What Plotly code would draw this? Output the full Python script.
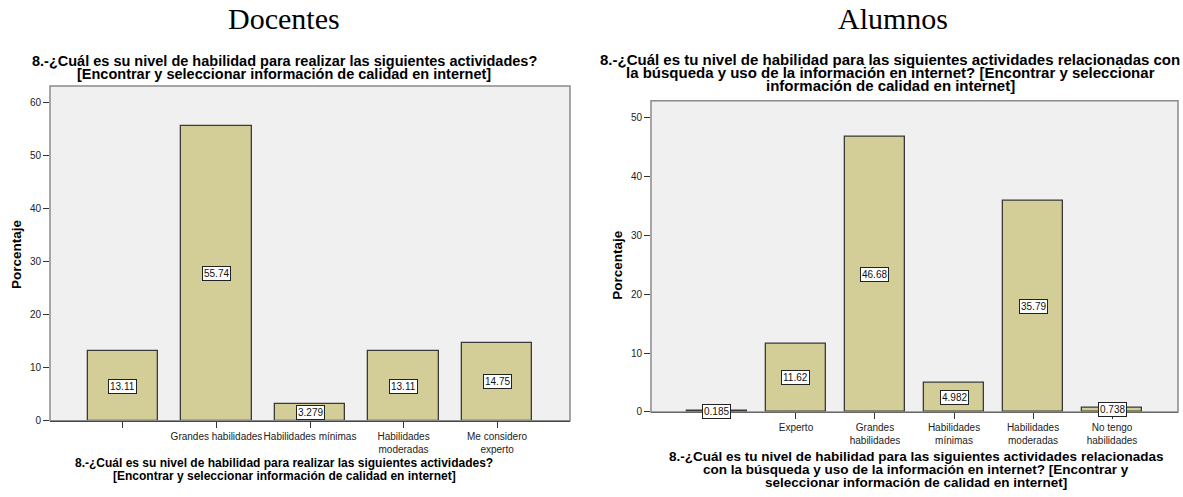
import plotly.graph_objects as go

# Docentes: percentage per answer category
doc_categories = ["", "Grandes habilidades", "Habilidades mínimas",
                  "Habilidades<br>moderadas", "Me considero<br>experto"]
doc_values = [13.11, 55.74, 3.279, 13.11, 14.75]
doc_labels = ["13.11", "55.74", "3.279", "13.11", "14.75"]

# Alumnos: percentage per answer category
alu_categories = ["", "Experto", "Grandes<br>habilidades", "Habilidades<br>mínimas",
                  "Habilidades<br>moderadas", "No tengo<br>habilidades"]
alu_values = [0.185, 11.62, 46.68, 4.982, 35.79, 0.738]
alu_labels = ["0.185", "11.62", "46.68", "4.982", "35.79", "0.738"]

doc_ticks = [0, 10, 20, 30, 40, 50, 60]
alu_ticks = [0, 10, 20, 30, 40, 50]

# chart and axis titles, one entry per printed line
doc_title_lines = ["8.-¿Cuál es su nivel de habilidad para realizar las siguientes actividades?",
                   "[Encontrar y seleccionar información de calidad en internet]"]
alu_title_lines = ["8.-¿Cuál es tu nivel de habilidad para las siguientes actividades relacionadas con",
                   "la búsqueda y uso de la información en internet? [Encontrar y seleccionar",
                   "información de calidad en internet]"]
alu_xtitle_lines = ["8.-¿Cuál es tu nivel de habilidad para las siguientes actividades relacionadas",
                    "con la búsqueda y uso de la información en internet? [Encontrar y",
                    "seleccionar información de calidad en internet]"]

W, H = 1183, 497
BAR = "#d3ce97"
BG = "#f0f0f0"
FONT = "Liberation Sans, Arial, sans-serif"


def px(x):
    return x / W


def py(y):
    return 1 - y / H


fig = go.Figure()

fig.add_trace(go.Bar(
    x=list(range(len(doc_values))), y=doc_values, width=0.75,
    marker=dict(color=BAR, line=dict(color="#3a3a3a", width=1.3)),
    xaxis="x", yaxis="y", showlegend=False, hoverinfo="skip"))
fig.add_trace(go.Bar(
    x=list(range(len(alu_values))), y=alu_values, width=0.76,
    marker=dict(color=BAR, line=dict(color="#3a3a3a", width=1.3)),
    xaxis="x2", yaxis="y2", showlegend=False, hoverinfo="skip"))

tickfont = dict(family=FONT, size=10, color="#222")
common_x = dict(showgrid=False, zeroline=False, showline=True, linecolor="#000",
                linewidth=1.2, ticks="outside", ticklen=6, tickcolor="#333",
                tickfont=tickfont, tickangle=0, fixedrange=True)
common_y = dict(showgrid=False, zeroline=False, showline=False, ticks="outside",
                ticklen=6, tickcolor="#333", tickfont=tickfont, fixedrange=True)

fig.update_layout(
    width=W, height=H, margin=dict(l=0, r=0, t=0, b=0),
    paper_bgcolor="white", plot_bgcolor=BG, bargap=0,
    xaxis=dict(domain=[px(50), px(570)], range=[-0.78, 4.78],
               tickvals=list(range(len(doc_categories))), ticktext=doc_categories,
               anchor="y", **common_x),
    yaxis=dict(domain=[py(426), py(87)], range=[0, 63.2], tickvals=doc_ticks,
               anchor="x", **common_y),
    xaxis2=dict(domain=[px(651), px(1178)], range=[-0.835, 5.835],
                tickvals=list(range(len(alu_categories))), ticktext=alu_categories,
                anchor="y2", **common_x),
    yaxis2=dict(domain=[py(417), py(102)], range=[0, 52.85], tickvals=alu_ticks,
                anchor="x2", **common_y),
)

# gray frame around each plot area
for xr, yr in (("x", "y"), ("x2", "y2")):
    fig.add_shape(type="rect", xref=f"{xr} domain", yref=f"{yr} domain",
                  x0=0, x1=1, y0=0, y1=1, line=dict(color="#8a8a8a", width=1.5),
                  fillcolor="rgba(0,0,0,0)", layer="above")

# value labels in the middle of each bar
for xr, yr, vals, labs in (("x", "y", doc_values, doc_labels),
                           ("x2", "y2", alu_values, alu_labels)):
    for i, (v, t) in enumerate(zip(vals, labs)):
        fig.add_annotation(x=i, y=v / 2, xref=xr, yref=yr, text=t, showarrow=False,
                           xanchor="center", yanchor="middle",
                           font=dict(family=FONT, size=10, color="#111"),
                           bgcolor="white", bordercolor="#222", borderwidth=1,
                           borderpad=1)


def note(x, y, text, font, angle=0):
    fig.add_annotation(x=px(x), y=py(y), xref="paper", yref="paper", text=text,
                       showarrow=False, xanchor="center", yanchor="middle",
                       align="center", textangle=angle, font=font)


def block(x, y0, lines, size, step=13.2):
    f = dict(family=FONT, size=size, color="#000")
    for k, line in enumerate(lines):
        note(x, y0 + k * step, f"<b>{line}</b>", f)


serif = dict(family="Liberation Serif, Times New Roman, serif", size=30, color="#000")

# group headings
note(284, 19, "Docentes", serif)
note(893, 19, "Alumnos", serif)

# chart titles above and category-axis titles below
block(284, 62, doc_title_lines, 14.5)
block(890, 60, alu_title_lines, 15)
block(284, 469, doc_title_lines, 12)
block(916, 462, alu_xtitle_lines, 13.5)

# y axis titles
ylab = dict(family=FONT, size=13.5, color="#000")
note(17, 257, "<b>Porcentaje</b>", ylab, -90)
note(618, 268, "<b>Porcentaje</b>", ylab, -90)

fig.write_html("out.html")
